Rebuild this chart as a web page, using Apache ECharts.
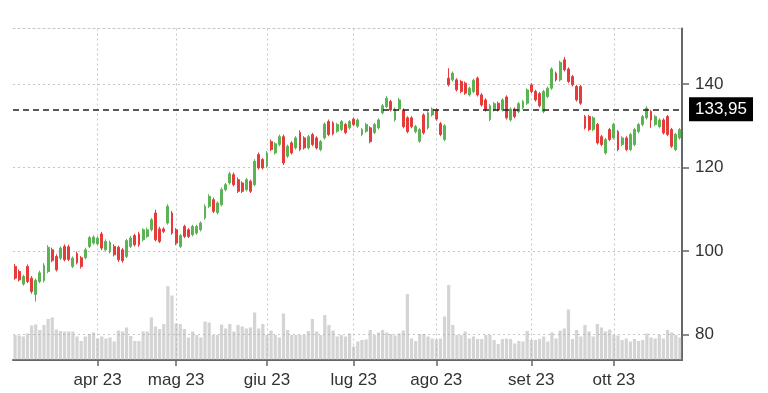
<!DOCTYPE html>
<html>
<head>
<meta charset="utf-8">
<script src="https://cdn.jsdelivr.net/npm/echarts@6/dist/echarts.min.js"></script>
<style>html,body{margin:0;padding:0;background:#fff}#c{width:768px;height:393px}</style>
</head>
<body>
<div id="c"></div>
<script>
// Trading days (day-of-month) per month, 2023
const marDays = [6,7,8,9,10,13,14,15,16,17,20,21,22,23,24,27,28,29,30,31];
const aprDays = [3,4,5,6,10,11,12,13,14,17,18,19,20,21,24,25,26,27,28];
const mayDays = [1,2,3,4,5,8,9,10,11,12,15,16,17,18,19,22,23,24,25,26,30,31];
const junDays = [1,2,5,6,7,8,9,12,13,14,15,16,20,21,22,23,26,27,28,29,30];
const julDays = [3,5,6,7,10,11,12,13,14,17,18,19,20,21,24,25,26,27,28,31];
const augDays = [1,2,3,4,7,8,9,10,11,14,15,16,17,18,21,22,23,24,25,28,29,30,31];
const sepDays = [1,5,6,7,8,11,12,13,14,15,18,19,20,21,22,25,26,27,28,29];
const octDays = [2,3,4,5,6,9,10,11,12,13,16,17,18,19,20,23,24];
const monthLabels = ['gen','feb','mar','apr','mag','giu','lug','ago','set','ott','nov','dic'];

const opens = [96.3,95.1,92.1,96.3,93.5,89.6,92.7,92.9,95.1,100.3,98.7,98.3,101.1,101.0,96.3,99.4,98.4,98.4,101.1,101.9,
101.7,104.1,100.3,99.8,101.1,100.9,100.3,98.7,101.1,103.7,104.1,102.7,103.5,105.1,109.1,105.3,105.3,106.7,109.1,105.1,
101.1,105.9,105.1,103.9,104.3,105.1,107.9,110.7,112.3,109.2,111.1,114.7,116.3,118.3,117.1,116.3,114.7,116.7,115.9,123.1,
121.9,120.3,126.2,123.5,125.5,127.4,122.7,125.9,124.7,128.4,127.1,124.7,127.9,127.1,124.3,127.1,131.0,130.7,128.7,129.1,
130.3,129.5,131.6,129.9,127.9,128.7,129.5,128.4,129.5,133.1,134.6,135.8,131.4,134.0,133.8,131.9,131.9,128.6,126.3,132.6,
129.5,132.6,133.8,130.5,126.7,141.4,141.0,141.0,140.6,140.2,137.4,138.2,141.4,137.4,136.2,131.5,133.8,135.4,133.8,136.9,
131.4,134.0,133.4,134.3,135.4,139.8,138.2,137.7,133.4,137.0,139.0,142.6,141.0,145.8,143.6,141.8,139.4,139.4,132.2,132.2,
129.1,130.3,127.4,123.5,129.1,127.1,128.6,125.5,127.1,124.3,125.5,128.6,130.3,131.9,133.4,130.3,129.8,131.4,132.2,129.1,
124.3,127.1];
const closes = [93.5,93.1,93.9,92.7,90.3,93.0,94.8,96.6,100.9,97.7,95.5,100.7,97.9,98.0,98.3,97.2,96.3,100.3,103.2,103.3,
103.1,100.7,102.3,102.1,99.1,97.9,97.7,102.5,103.1,101.5,101.5,105.1,105.1,107.5,102.7,102.3,104.7,110.7,104.3,101.9,
103.7,103.5,103.5,105.9,105.9,106.7,110.7,113.1,109.5,111.5,114.7,115.9,118.5,115.9,114.3,114.3,117.1,114.3,121.5,119.9,
119.9,123.5,124.3,125.7,127.4,121.1,125.1,123.5,127.1,124.3,124.7,127.4,125.5,124.7,126.2,130.4,127.9,128.1,130.3,131.0,
128.4,131.0,130.3,131.4,129.1,130.3,126.2,130.3,131.4,134.8,136.6,133.8,134.0,136.2,129.8,128.6,129.8,129.8,129.1,128.3,
133.1,134.0,131.6,127.9,130.0,139.8,142.6,138.6,138.2,137.8,139.0,140.9,137.4,135.0,133.8,134.8,135.3,133.8,136.2,131.9,
134.0,132.2,135.3,135.8,138.6,138.2,136.2,134.8,138.2,139.0,143.6,141.0,145.2,143.4,140.6,139.8,136.2,135.4,129.5,129.1,
131.9,125.9,125.5,126.7,126.7,130.3,124.3,127.1,124.3,127.9,129.1,130.3,132.2,134.2,131.4,132.2,131.4,128.3,127.9,125.1,
127.9,129.1];
const lows = [93.1,92.7,91.7,92.3,89.8,87.9,92.3,92.5,94.7,97.3,95.1,97.9,97.5,97.6,95.9,96.8,95.8,98.0,100.7,101.5,
101.3,100.2,99.9,99.4,98.7,97.4,97.2,98.3,100.7,101.1,101.0,102.3,103.1,104.7,102.3,101.9,104.3,106.3,103.9,101.4,
100.7,103.1,103.1,103.5,103.9,104.7,107.5,110.3,109.1,108.8,110.7,114.3,115.9,115.5,113.9,113.9,114.3,113.9,115.5,119.5,
119.5,119.9,123.9,123.1,125.1,120.6,122.3,123.1,124.3,123.9,124.3,124.3,125.1,124.3,123.9,126.7,127.5,127.7,128.3,128.7,
128.0,129.1,129.9,129.5,127.5,128.3,125.8,128.0,129.1,132.7,134.2,133.4,131.0,133.6,129.4,128.2,129.4,128.2,125.9,127.9,
129.1,132.2,131.2,127.5,126.3,139.4,140.6,138.2,137.8,137.4,137.0,137.8,137.0,134.6,133.4,131.1,133.4,133.4,133.4,131.5,
131.0,131.8,133.0,133.9,135.0,137.8,135.8,134.4,133.0,136.6,138.6,140.6,140.6,143.0,140.2,139.4,135.8,135.0,129.1,128.7,
128.7,125.5,125.1,123.1,126.3,126.7,123.9,125.1,123.9,123.9,125.1,128.2,129.9,131.5,129.5,129.9,129.4,127.9,127.5,124.7,
123.9,126.7];
const highs = [96.9,95.6,94.3,96.8,94.0,93.4,95.3,97.1,101.4,100.8,99.2,101.1,101.6,101.5,98.7,99.9,98.8,100.8,103.6,103.8,
103.5,104.6,102.8,102.5,101.6,101.3,100.7,102.9,103.6,104.1,104.6,105.5,105.6,107.9,109.9,105.8,105.7,111.2,109.6,105.5,
104.1,106.3,105.5,106.3,106.3,107.1,111.2,113.6,112.8,111.9,115.2,116.3,119.0,118.8,117.6,116.7,117.5,117.1,122.0,123.6,
122.3,123.9,126.7,126.1,127.9,127.9,125.5,126.3,127.5,128.9,127.5,127.8,128.3,127.5,126.6,130.8,131.5,131.1,130.7,131.4,
130.7,131.4,132.0,131.8,129.5,130.7,129.9,130.7,131.8,135.2,137.1,136.2,134.4,136.7,134.2,132.3,132.3,130.2,129.5,133.0,
133.5,134.4,134.2,130.9,130.4,143.8,143.0,141.4,141.0,140.6,139.4,141.3,141.8,137.8,136.6,135.2,135.7,135.8,136.6,137.3,
134.4,134.4,135.7,136.2,139.0,140.2,138.6,138.1,138.6,139.4,144.0,143.0,145.6,146.5,144.0,142.2,139.8,139.8,132.6,132.6,
132.3,130.7,127.8,127.1,129.5,130.7,129.0,127.5,127.5,128.3,129.5,130.7,132.6,134.7,133.8,132.6,131.8,131.8,132.6,129.5,
128.3,129.5];
const volumes = [50,49,47,53,69,71,60,70,82,85,61,58,57,57,57,47,38,47,52,55,
43,47,43,45,37,59,57,65,48,38,38,57,57,85,67,62,72,148,129,73,
72,62,45,57,50,45,77,75,50,50,71,63,72,57,70,67,63,65,95,63,
72,50,59,50,45,93,60,50,50,50,50,58,82,57,50,90,70,59,47,50,
47,53,27,37,40,41,60,50,55,60,55,52,49,53,59,132,43,38,52,52,
47,43,41,43,87,150,70,50,50,57,43,47,42,42,50,50,40,32,42,43,
42,33,38,37,58,40,40,42,47,37,55,43,59,63,101,42,60,47,70,57,
47,72,65,57,61,50,49,40,43,37,42,38,40,53,45,43,50,43,60,55,
50,45];
const yTicks = [80,100,120,140];
const lastPrice = 133.95;
const lastPriceLabel = '133,95';

const months = [[3,marDays],[4,aprDays],[5,mayDays],[6,junDays],[7,julDays],[8,augDays],[9,sepDays],[10,octDays]];
const dates = [];
const monthStart = {};
months.forEach(([m, days]) => {
  days.forEach((d, k) => {
    if (k === 0 && m !== 3) monthStart[dates.length] = true;
    dates.push('2023-' + String(m).padStart(2,'0') + '-' + String(d).padStart(2,'0'));
  });
});
const candleData = opens.map((o, i) => [o, closes[i], lows[i], highs[i]]);
const isMonthStart = (idx) => !!monthStart[idx];

const chart = echarts.init(document.getElementById('c'), null, {renderer: 'canvas'});
const font = "'Liberation Sans', Arial, Helvetica, sans-serif";
const gridLine = {color: '#c6c6c6', width: 1, type: [2, 3]};

chart.setOption({
  animation: false,
  backgroundColor: '#fff',
  grid: {left: 13, right: 86, top: 28.5, bottom: 33, containLabel: false, outerBoundsMode: 'none'},
  xAxis: [{
    type: 'category',
    data: dates,
    boundaryGap: true,
    axisLine: {show: true, lineStyle: {color: '#666', width: 2}},
    axisTick: {show: true, interval: isMonthStart, alignWithLabel: true, length: 6, lineStyle: {color: '#666', width: 1.5}},
    axisLabel: {
      interval: isMonthStart, margin: 12, fontSize: 17, color: '#333', fontFamily: font,
      formatter: (v) => monthLabels[parseInt(v.slice(5,7), 10) - 1] + ' ' + v.slice(2,4)
    },
    splitLine: {show: true, interval: isMonthStart, alignWithLabel: true, lineStyle: gridLine}
  }, {
    type: 'category',
    data: dates,
    position: 'top',
    axisLine: {show: true, lineStyle: gridLine},
    axisTick: {show: false},
    axisLabel: {show: false},
    splitLine: {show: false}
  }],
  yAxis: [{
    type: 'value',
    position: 'right',
    min: 73.9,
    max: 153.3,
    axisLine: {show: true, lineStyle: {color: '#666', width: 2}},
    axisTick: {show: true, customValues: yTicks, length: 7, lineStyle: {color: '#666', width: 1.5}},
    axisLabel: {customValues: yTicks, margin: 13, fontSize: 17, color: '#333', fontFamily: font},
    splitLine: {show: true, lineStyle: gridLine}
  }, {
    type: 'value',
    show: false,
    min: 0,
    max: 663,
    splitLine: {show: false}
  }],
  series: [{
    type: 'bar',
    name: 'volume',
    xAxisIndex: 0,
    yAxisIndex: 1,
    data: volumes,
    barCategoryGap: '22%',
    itemStyle: {color: 'rgba(170,170,170,0.5)'},
    silent: true,
    z: 1
  }, {
    type: 'candlestick',
    name: 'price',
    xAxisIndex: 0,
    yAxisIndex: 0,
    data: candleData,
    barWidth: 2.4,
    itemStyle: {
      color: '#5cb356', color0: '#e53b3b',
      borderColor: '#5cb356', borderColor0: '#e53b3b', borderWidth: 1
    },
    z: 3,
    markLine: {
      silent: true,
      symbol: 'none',
      animation: false,
      data: [{yAxis: lastPrice}],
      lineStyle: {color: '#222', width: 1.5, type: [6, 4]},
      label: {
        show: true, position: 'end', formatter: lastPriceLabel, distance: 7,
        backgroundColor: '#000', color: '#fff', padding: [4, 6, 3, 6],
        fontSize: 17, fontFamily: font
      },
      emphasis: {disabled: true}
    }
  }]
});
</script>
</body>
</html>
